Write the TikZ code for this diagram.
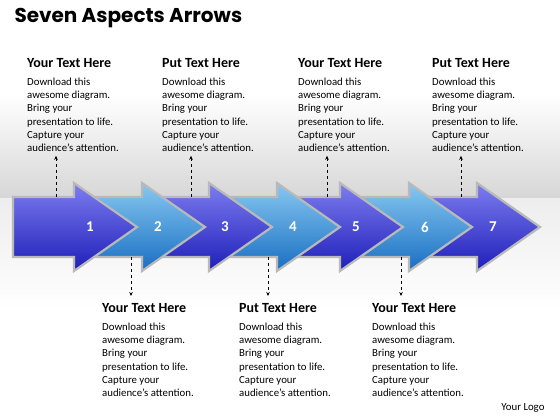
\documentclass[tikz,border=0pt]{standalone}
\usepackage{fontspec}
\setmainfont{Carlito}
\newfontfamily\headfont{Poppins}
\usepackage{xcolor}
\usetikzlibrary{arrows.meta, positioning, calc}

\definecolor{darktop}{RGB}{125,125,240}
\definecolor{darkmid}{RGB}{45,45,225}
\definecolor{darkbot}{RGB}{30,30,185}
\definecolor{lighttop}{RGB}{135,200,240}
\definecolor{lightmid}{RGB}{45,150,225}
\definecolor{lightbot}{RGB}{25,110,195}

\newcommand{\blockhead}[1]{{\bfseries\fontsize{14}{14}\selectfont #1}}
\newcommand{\bodytext}{Download this\\awesome diagram.\\Bring your\\presentation to life.\\Capture your\\audience’s attention.}

\begin{document}
\begin{tikzpicture}[
x=1pt, y=1pt,
bigarrow/.style={draw=gray!55,
line width=2.2pt,
line join=miter},
darkarrow/.style={bigarrow, top color=darktop, middle color=darkmid, bottom color=darkbot},
lightarrow/.style={bigarrow, top color=lighttop, middle color=lightmid, bottom color=lightbot},
num/.style={text=white, font=\bfseries\fontsize{15}{15}\selectfont},
txt/.style={align=left,
anchor=north west,
inner sep=0pt,
font=\fontsize{10.8}{13.2}\selectfont},
dashlink/.style={dashed, -{Stealth[length=4pt, width=3.5pt]}, semithick} ]

\useasboundingbox (0,0) rectangle (560,420);

% background
\shade[top color=white, bottom color=gray!32] (0,325) rectangle (560,221);
\shade[top color=gray!14, bottom color=white] (0,221) rectangle (560,110);

\node[anchor=west, font=\headfont\bfseries\fontsize{20}{20}\selectfont] (title) at (11,402) {Seven Aspects Arrows};

% arrows, last one first so that each head lies on the next body
\foreach \i/\tip in {7/540, 6/472, 5/403, 4/340, 3/272, 2/205, 1/137} {
\ifodd\i \def\kind{darkarrow}\else \def\kind{lightarrow}\fi
\path[\kind] (\tip-124,223) -- (\tip-63,223) -- (\tip-63,237) -- (\tip,193)
  -- (\tip-63,149) -- (\tip-63,163) -- (\tip-124,163) -- cycle;
\coordinate (a\i) at (\tip-62,193);
\node[num] (n\i) at (\tip-47,193) {\i};
}

% texts above
\node[txt] (t1) at (27,362) {\blockhead{Your Text Here}\\[5pt]\bodytext};
\node[txt] (t3) at (162,362) {\blockhead{Put Text Here}\\[5pt]\bodytext};
\node[txt] (t5) at (298,362) {\blockhead{Your Text Here}\\[5pt]\bodytext};
\node[txt] (t7) at (432,362) {\blockhead{Put Text Here}\\[5pt]\bodytext};

% texts below
\node[txt] (t2) at (102,117) {\blockhead{Your Text Here}\\[5pt]\bodytext};
\node[txt] (t4) at (239,117) {\blockhead{Put Text Here}\\[5pt]\bodytext};
\node[txt] (t6) at (372,117) {\blockhead{Your Text Here}\\[5pt]\bodytext};

% dashed links
\foreach \i in {1,3,5,7} {
\coordinate (u\i) at ($(t\i.south west)+(29,-4)$);
\draw[dashlink] (u\i |- a\i) ++(0,30) -- (u\i);
}
\foreach \i in {2,4,6} {
\coordinate (d\i) at ($(t\i.north west)+(29,7)$);
\draw[dashlink] (d\i |- a\i) ++(0,-30) -- (d\i);
}

\node[anchor=east, font=\fontsize{10.8}{12}\selectfont] (logo) at (548,12) {Your Logo};

\end{tikzpicture}
\end{document}
